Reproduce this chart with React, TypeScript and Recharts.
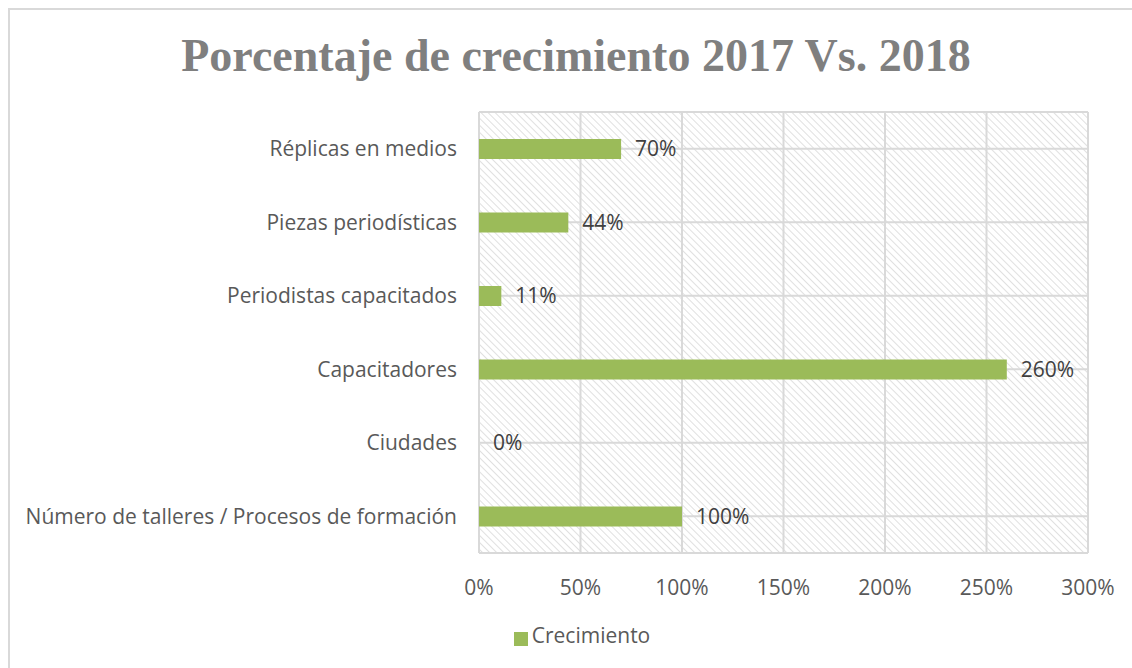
import { BarChart, Bar, XAxis, YAxis, CartesianGrid, Legend, LabelList } from 'recharts'

const categories = [
  'Réplicas en medios',
  'Piezas periodísticas',
  'Periodistas capacitados',
  'Capacitadores',
  'Ciudades',
  'Número de talleres / Procesos de formación',
]
const crecimiento = [0.7, 0.44, 0.11, 2.6, 0, 1.0]
const xTicks = [0, 0.5, 1, 1.5, 2, 2.5, 3]

const data = categories.map((name, i) => ({ name, Crecimiento: crecimiento[i] }))

const pct = (v: number) => `${Math.round(v * 100)}%`
const textFont = "'Open Sans', sans-serif"

export default function App() {
  return (
    <div style={{ position: 'fixed', left: 0, top: 0, width: 1132, height: 668, background: '#fff' }}>
      <div
        style={{
          position: 'absolute', left: 8, top: 8, right: 0, bottom: 0,
          borderLeft: '2px solid #d9d9d9', borderTop: '2px solid #d9d9d9',
        }}
      />
      <div
        style={{
          position: 'absolute', left: 0, top: 29, width: 1152, textAlign: 'center',
          fontFamily: "'Liberation Serif', serif", fontWeight: 'bold', fontSize: 46, color: '#7f7f7f',
        }}
      >
        Porcentaje de crecimiento 2017 Vs. 2018
      </div>
      <BarChart
        width={1132}
        height={668}
        data={data}
        layout="vertical"
        margin={{ top: 112, right: 44, left: 0, bottom: 27 }}
        style={{ position: 'absolute', left: 0, top: 0 }}
      >
        <defs>
          <pattern id="hatch" width="5" height="5" patternUnits="userSpaceOnUse" patternTransform="rotate(-45)">
            <rect width="5" height="5" fill="#ffffff" />
            <line x1="0" y1="0" x2="0" y2="5" stroke="#d9d9d9" strokeWidth="1.6" />
          </pattern>
        </defs>
        <CartesianGrid fill="url(#hatch)" stroke="#d9d9d9" strokeWidth={2} />
        <XAxis
          type="number"
          domain={[0, 3]}
          ticks={xTicks}
          tickFormatter={pct}
          axisLine={false}
          tickLine={false}
          tickMargin={21}
          tick={{ fill: '#595959', fontSize: 21, fontFamily: textFont }}
          height={60}
        />
        <YAxis
          type="category"
          dataKey="name"
          width={479}
          axisLine={false}
          tickLine={false}
          tickMargin={16}
          tick={{ fill: '#595959', fontSize: 21, fontFamily: textFont }}
          interval={0}
        />
        <Legend
          verticalAlign="bottom"
          iconType="square"
          iconSize={14}
          wrapperStyle={{ top: 621, left: 21, width: 1132 }}
          formatter={(value) => <span style={{ color: '#595959', fontSize: 21, fontFamily: textFont }}>{value}</span>}
        />
        <Bar dataKey="Crecimiento" fill="#9bbb59" barSize={20} minPointSize={0.01} isAnimationActive={false}>
          <LabelList
            dataKey="Crecimiento"
            position="right"
            offset={14}
            formatter={(v: any) => pct(Number(v))}
            style={{ fill: '#404040', fontSize: 21, fontFamily: textFont }}
          />
        </Bar>
      </BarChart>
    </div>
  )
}
